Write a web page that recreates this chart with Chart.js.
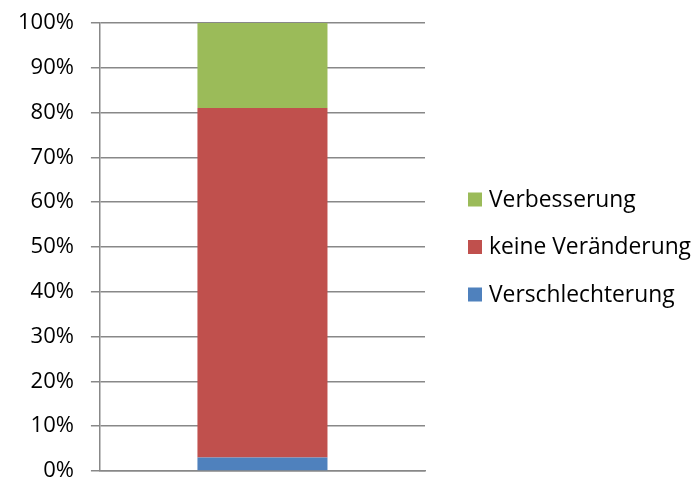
<!DOCTYPE html>
<html>
<head>
<meta charset="utf-8">
<script src="https://cdn.jsdelivr.net/npm/chart.js@4/dist/chart.umd.min.js"></script>
<style>
  body { margin: 0; background: #fff; }
  #wrap { width: 696px; height: 480px; }
</style>
</head>
<body>
<div id="wrap"><canvas id="chart" width="696" height="480"></canvas></div>
<script>
const categories = [''];
const seriesNames = ['Verschlechterung', 'keine Veränderung', 'Verbesserung'];
const verschlechterung = [3];
const keineVeraenderung = [78];
const verbesserung = [19];
const seriesColors = ['#4F81BD', '#C0504D', '#9BBB59'];

const FONT = 'Open Sans';

// legend drawn by hand right of the plot, top entry = last series
const sideLegend = {
    id: 'sideLegend',
    afterDraw(chart) {
        const ctx = chart.ctx;
        const area = chart.chartArea;
        const sets = chart.data.datasets;
        const midY = (area.top + area.bottom) / 2;
        const step = 47.5;
        const x = area.right + 43;
        ctx.save();
        ctx.font = '22.8px ' + FONT;
        ctx.textBaseline = 'middle';
        ctx.textAlign = 'left';
        for (let i = sets.length - 1; i >= 0; i--) {
            const row = sets.length - 1 - i;
            const y = midY + (row - 1) * step;
            ctx.fillStyle = sets[i].backgroundColor;
            ctx.fillRect(x, y - 7, 14, 14);
            ctx.fillStyle = '#000';
            ctx.fillText(sets[i].label, x + 21, y + 1);
        }
        ctx.restore();
    }
};

const ctx = document.getElementById('chart').getContext('2d');
const chart = new Chart(ctx, {
    type: 'bar',
    data: {
        labels: categories,
        datasets: [
            { label: seriesNames[0], data: verschlechterung, backgroundColor: seriesColors[0] },
            { label: seriesNames[1], data: keineVeraenderung, backgroundColor: seriesColors[1] },
            { label: seriesNames[2], data: verbesserung, backgroundColor: seriesColors[2] }
        ]
    },
    options: {
        responsive: false,
        animation: false,
        layout: {
            padding: { left: 1, right: 271, top: 23, bottom: 9 }
        },
        plugins: {
            legend: { display: false },
            tooltip: { enabled: false }
        },
        datasets: {
            bar: { categoryPercentage: 1, barPercentage: 0.4 }
        },
        scales: {
            x: {
                stacked: true,
                grid: { display: false, drawTicks: false },
                ticks: { display: false },
                border: { color: '#888', width: 1.5 },
                afterFit: s => { s.height = 0; }
            },
            y: {
                stacked: true,
                min: 0,
                max: 100,
                ticks: {
                    stepSize: 10,
                    callback: v => v + '%',
                    color: '#000',
                    font: { family: FONT, size: 22 },
                    padding: 17
                },
                grid: { color: '#888', lineWidth: 1.5, tickLength: 9 },
                border: { color: '#888', width: 1.5 },
                // labels may hang over the plot edges, don't shrink the plot for them
                afterFit: s => { s.paddingTop = 0; s.paddingBottom = 0; }
            }
        }
    },
    plugins: [sideLegend]
});
</script>
</body>
</html>
